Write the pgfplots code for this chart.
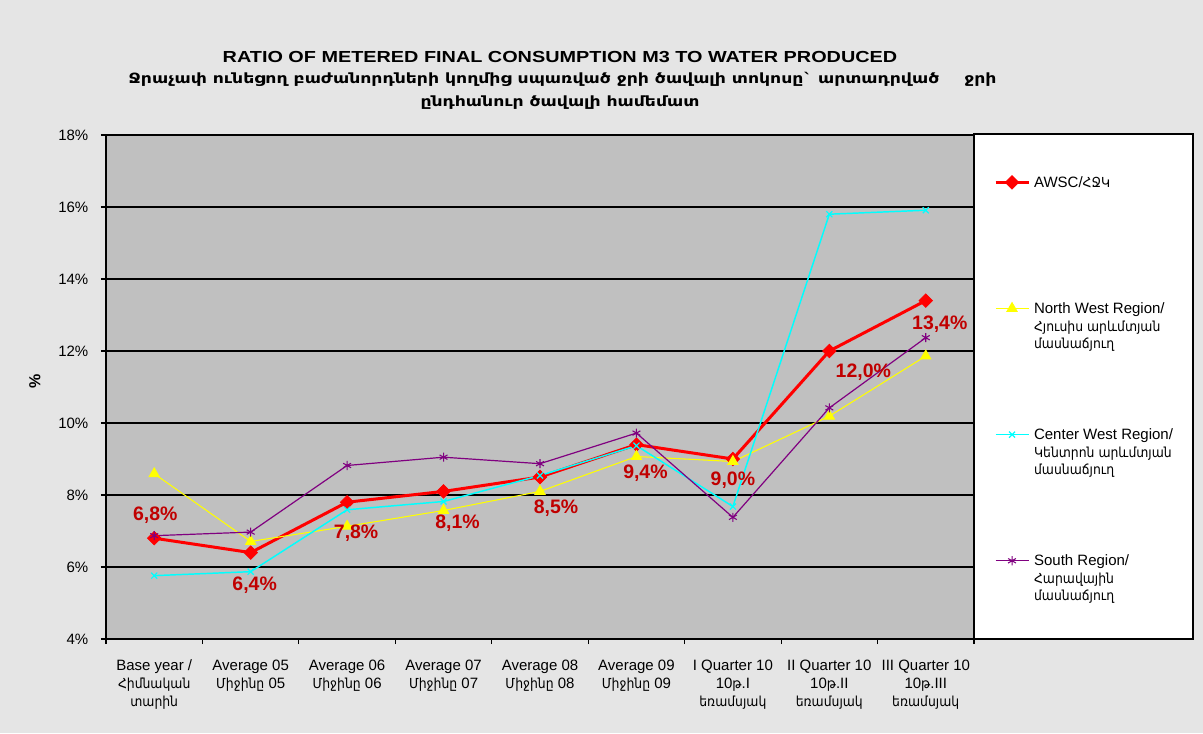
\documentclass[border=0pt]{standalone}
\usepackage{fontspec}
\setmainfont{Liberation Sans}
\newfontfamily\arm[Scale=0.92]{DejaVu Sans Condensed}
\usepackage{pgfplots}
\pgfplotsset{compat=1.18}
\usepackage{pgfplotstable}

\definecolor{bgc}{RGB}{229,229,229}
\definecolor{plotbg}{RGB}{192,192,192}
\definecolor{lblred}{RGB}{192,0,0}
\definecolor{nwy}{RGB}{255,255,0}
\definecolor{cwc}{RGB}{0,255,255}
\definecolor{spu}{RGB}{128,0,128}

\pgfplotstableread{
x y dx dy lab
0 6.8 0.75 17 6,8
1 6.4 3 -24.5 6,4
2 7.8 6.75 -22.9 7,8
3 8.1 10.5 -24 8,1
4 8.5 12 -23.6 8,5
5 9.4 6.75 -21.75 9,4
6 9.0 0 -16 9,0
7 12.0 25.5 -15.75 12,0
8 13.4 10.5 -18 13,4
}\awsc

\pgfplotstableread{
x y
0 8.59
1 6.71
2 7.13
3 7.57
4 8.10
5 9.07
6 8.93
7 10.19
8 11.86
}\northwest

\pgfplotstableread{
x y
0 5.76
1 5.87
2 7.59
3 7.82
4 8.54
5 9.37
6 7.68
7 15.80
8 15.91
}\centerwest

\pgfplotstableread{
x y
0 6.87
1 6.97
2 8.82
3 9.05
4 8.87
5 9.72
6 7.38
7 10.42
8 12.37
}\south

\begin{document}
\begin{tikzpicture}
\fill[bgc] (0,0) rectangle (902.25pt,549.75pt);
\path[use as bounding box] (0,0) rectangle (902.25pt,549.75pt);
\draw[fill=white, line width=0.8pt] (730.5pt,70.5pt) rectangle (894.75pt,449.25pt);
\begin{axis}[
  at={(79.5pt,70.5pt)}, anchor=south west,
  scale only axis, width=651pt, height=378pt,
  xmin=-0.5, xmax=8.5, ymin=4, ymax=18,
  xtick={0,...,8},
  xticklabels={
    {Base year /\\{\arm Հիմնական}\\{\arm տարին}},
    {Average 05\\{\arm Միջինը} 05},
    {Average 06\\{\arm Միջինը} 06},
    {Average 07\\{\arm Միջինը} 07},
    {Average 08\\{\arm Միջինը} 08},
    {Average 09\\{\arm Միջինը} 09},
    {I Quarter 10\\10{\arm թ}.I\\{\arm եռամսյակ}},
    {II Quarter 10\\10{\arm թ}.II\\{\arm եռամսյակ}},
    {III Quarter 10\\10{\arm թ}.III\\{\arm եռամսյակ}}},
  major x tick style={draw=none},
  minor xtick={-0.5,0.5,...,8.5},
  ytick={4,6,...,18},
  yticklabels={4\%,6\%,8\%,10\%,12\%,14\%,16\%,18\%},
  tick align=outside, tick pos=left,
  major tick length=3.75pt, minor tick length=3.75pt,
  tick style={black, line width=0.8pt},
  ymajorgrids, grid style={black, line width=0.8pt},
  axis line style={black, line width=0.8pt},
  axis background/.style={fill=plotbg},
  tick label style={font=\fontsize{11.25}{13.5}\selectfont},
  xticklabel style={align=center, anchor=north, yshift=-8.25pt},
  yticklabel style={xshift=-6pt},
  ylabel={\%},
  ylabel style={at={(rel axis cs:-0.0818,0.512)}, anchor=center, font=\bfseries\fontsize{12}{14}\selectfont},
  legend cell align=left,
  legend image code/.code={\draw[mark repeat=2,mark phase=2,yshift=3.9pt] plot coordinates {(0pt,0pt) (12.4pt,0pt) (24.8pt,0pt)};},
  legend style={at={(rel axis cs:1,1)}, anchor=north west, xshift=15pt, yshift=-30.2pt,
    draw=none, fill=none, inner sep=0pt, outer sep=0pt, row sep=83.95pt, column sep=3pt,
    font=\fontsize{11.25}{13.1}\selectfont,
    nodes={inner sep=0pt}, cells={anchor=base west}},
]
\addplot[red, line width=2.25pt, mark=square*, mark size=3.6pt, mark options={rotate=45, fill=red, draw=red, line width=0.5pt}] table[x=x,y=y]{\awsc};
\addlegendentry{\parbox[t]{120pt}{\strut AWSC/{\arm ՀՋԿ}\\\strut\\\strut}}
\addplot[nwy, line width=0.8pt, mark=triangle*, mark size=4.3pt, mark options={fill=nwy, draw=nwy}] table[x=x,y=y]{\northwest};
\addlegendentry{\parbox[t]{120pt}{\strut North West Region/\\\strut{\arm Հյուսիս արևմտյան}\\\strut{\arm մասնաճյուղ}}}
\addplot[cwc, line width=1.1pt, mark=x, mark size=3.2pt, mark options={line width=0.9pt}] table[x=x,y=y]{\centerwest};
\addlegendentry{\parbox[t]{120pt}{\strut Center West Region/\\\strut{\arm Կենտրոն արևմտյան}\\\strut{\arm մասնաճյուղ}}}
\addplot[spu, line width=0.9pt, mark=asterisk, mark size=3.4pt, mark options={line width=0.8pt}] table[x=x,y=y]{\south};
\addlegendentry{\parbox[t]{120pt}{\strut South Region/\\\strut{\arm Հարավային}\\\strut{\arm մասնաճյուղ}}}
\addplot[draw=none, forget plot, no marks,
  point meta=explicit symbolic,
  visualization depends on={\thisrow{dx} \as \dx},
  visualization depends on={\thisrow{dy} \as \dy},
  nodes near coords={\pgfplotspointmeta\%},
  every node near coord/.append style={anchor=center, xshift=\dx pt, yshift=\dy pt,
    font=\bfseries\fontsize{14.6}{16}\selectfont, text=lblred}]
  table[x=x,y=y,meta=lab]{\awsc};
\end{axis}
\node[font=\bfseries\fontsize{12}{14}\selectfont] at (420pt,507pt) {\scalebox{1.24}[1]{RATIO OF METERED FINAL CONSUMPTION M3 TO WATER PRODUCED}};
\node[font=\bfseries\arm\fontsize{11.5}{13}\selectfont] at (422pt,490pt) {\scalebox{1.36}[1]{Ջրաչափ ունեցող բաժանորդների կողմից սպառված ջրի ծավալի տոկոսը` արտադրված \quad ջրի}};
\node[font=\bfseries\arm\fontsize{11.5}{13}\selectfont] at (420pt,472.5pt) {\scalebox{1.36}[1]{ընդհանուր ծավալի համեմատ}};
\end{tikzpicture}
\end{document}
